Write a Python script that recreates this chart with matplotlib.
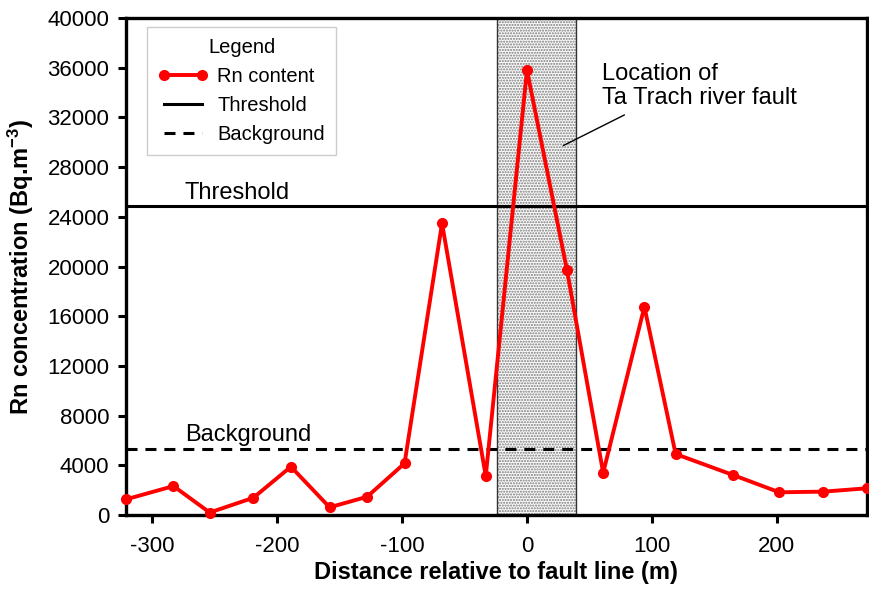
import matplotlib
matplotlib.use("Agg")
import matplotlib.pyplot as plt

plt.rcParams['font.family'] = ['Liberation Sans', 'DejaVu Sans']
plt.rcParams['axes.unicode_minus'] = False
plt.rcParams['mathtext.fontset'] = 'custom'
plt.rcParams['mathtext.rm'] = 'Liberation Sans'
plt.rcParams['mathtext.bf'] = 'Liberation Sans:bold'
plt.rcParams['mathtext.default'] = 'bf'
plt.rcParams['hatch.linewidth'] = 1.0

distance = [-321, -283, -254, -219, -189, -158, -128, -98, -68, -33, 0, 32, 61, 94, 119, 165, 202, 237, 272]
rn_content = [1260, 2330, 200, 1390, 3890, 620, 1470, 4160, 23480, 3140, 35800, 19720, 3400, 16760, 4910, 3220, 1830, 1880, 2150]
threshold = 24900
background = 5300
fault_zone = [-24, 39]
x_ticks = [-300, -200, -100, 0, 100, 200]
y_ticks = [0, 4000, 8000, 12000, 16000, 20000, 24000, 28000, 32000, 36000, 40000]

fig = plt.figure(figsize=(8.69, 5.89), dpi=100)
ax = fig.add_axes([0.145, 0.1256, 0.8524, 0.8438])

ax.axvspan(fault_zone[0], fault_zone[1], facecolor='#fafafa', edgecolor='#7a7a7a',
           hatch='......', linewidth=0, zorder=0)
ax.axvspan(fault_zone[0], fault_zone[1], facecolor='none', edgecolor='#333333',
           linewidth=1.0, zorder=0.5)

ax.plot(distance, rn_content, color='#ff0000', lw=2.8, marker='o', ms=7,
        label='Rn content', zorder=3, clip_on=False)
ax.axhline(threshold, color='black', lw=2.2, label='Threshold', zorder=2)
ax.axhline(background, color='black', lw=2.2, ls=(0, (3.6, 2.6)), label='Background', zorder=2)

ax.set_xlim(-321, 272)
ax.set_ylim(0, 40000)
ax.set_xticks(x_ticks)
ax.set_yticks(y_ticks)
ax.tick_params(axis='both', direction='out', length=6, width=2.2, labelsize=16)
ax.tick_params(axis='x', pad=9)
ax.tick_params(axis='y', pad=6)
for s in ax.spines.values():
    s.set_linewidth(2.4)

ax.set_xlabel('Distance relative to fault line (m)', fontsize=17, fontweight='bold', labelpad=3)
ax.set_ylabel('Rn concentration (Bq.m$^{-3}$)', fontsize=17, fontweight='bold', labelpad=8)

ax.text(-274, 25400, 'Threshold', fontsize=17, ha='left', va='baseline')
ax.text(-274, 5950, 'Background', fontsize=17, ha='left', va='baseline')

ax.text(60, 36350, 'Location of\nTa Trach river fault', fontsize=17, ha='left', va='top',
        linespacing=1.1)
ax.annotate('', xy=(29, 29730), xytext=(78, 32200),
            arrowprops=dict(arrowstyle='-', color='black', lw=1.0, shrinkA=0, shrinkB=0))

leg = ax.legend(loc='upper left', bbox_to_anchor=(0.0283, 0.982), borderaxespad=0,
                title='Legend', fontsize=14.5, title_fontsize=14.5, frameon=True,
                fancybox=False, edgecolor='#c0c0c0', handlelength=2.5, handletextpad=0.45,
                borderpad=0.55, labelspacing=0.5, numpoints=2)
leg.get_frame().set_linewidth(1.0)

fig.savefig('out.png', dpi=100)
